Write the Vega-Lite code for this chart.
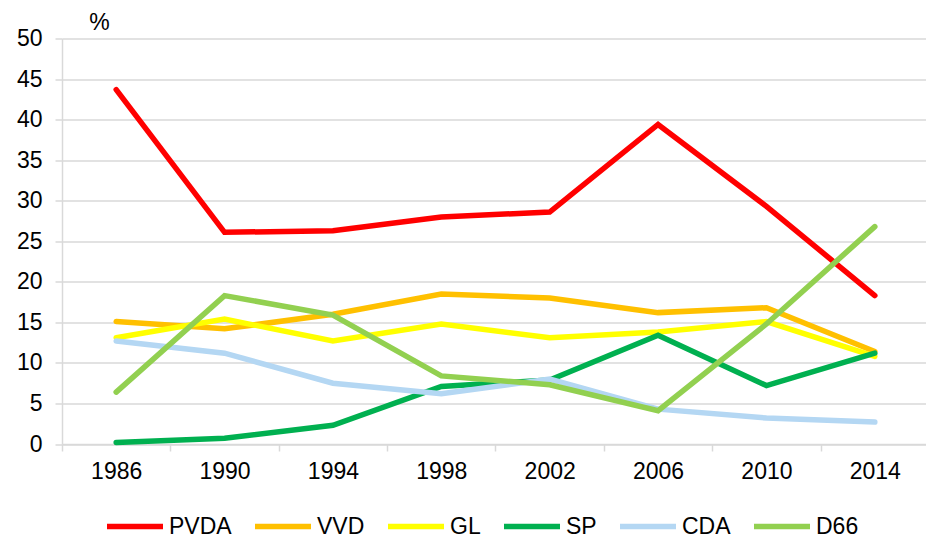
{
  "$schema": "https://vega.github.io/schema/vega-lite/v6.json",
  "autosize": {"type": "none"},
  "width": 867,
  "height": 405.5,
  "padding": {"left": 62, "top": 38.5, "right": 0, "bottom": 97},
  "background": "white",
  "config": {
    "font": "Liberation Sans",
    "view": {"stroke": null},
    "axis": {"labelFont": "Liberation Sans", "titleFont": "Liberation Sans"},
    "legend": {"labelFont": "Liberation Sans"}
  },
  "data": {
    "values": [
      {"party": "PVDA", "year": "1986", "pct": 43.7},
      {"party": "PVDA", "year": "1990", "pct": 26.1},
      {"party": "PVDA", "year": "1994", "pct": 26.3},
      {"party": "PVDA", "year": "1998", "pct": 28.0},
      {"party": "PVDA", "year": "2002", "pct": 28.6},
      {"party": "PVDA", "year": "2006", "pct": 39.4},
      {"party": "PVDA", "year": "2010", "pct": 29.3},
      {"party": "PVDA", "year": "2014", "pct": 18.3},
      {"party": "VVD", "year": "1986", "pct": 15.1},
      {"party": "VVD", "year": "1990", "pct": 14.2},
      {"party": "VVD", "year": "1994", "pct": 16.0},
      {"party": "VVD", "year": "1998", "pct": 18.5},
      {"party": "VVD", "year": "2002", "pct": 18.0},
      {"party": "VVD", "year": "2006", "pct": 16.2},
      {"party": "VVD", "year": "2010", "pct": 16.8},
      {"party": "VVD", "year": "2014", "pct": 11.4},
      {"party": "GL", "year": "1986", "pct": 13.1},
      {"party": "GL", "year": "1990", "pct": 15.4},
      {"party": "GL", "year": "1994", "pct": 12.7},
      {"party": "GL", "year": "1998", "pct": 14.8},
      {"party": "GL", "year": "2002", "pct": 13.1},
      {"party": "GL", "year": "2006", "pct": 13.8},
      {"party": "GL", "year": "2010", "pct": 15.1},
      {"party": "GL", "year": "2014", "pct": 10.8},
      {"party": "SP", "year": "1986", "pct": 0.2},
      {"party": "SP", "year": "1990", "pct": 0.7},
      {"party": "SP", "year": "1994", "pct": 2.3},
      {"party": "SP", "year": "1998", "pct": 7.1},
      {"party": "SP", "year": "2002", "pct": 7.9},
      {"party": "SP", "year": "2006", "pct": 13.4},
      {"party": "SP", "year": "2010", "pct": 7.2},
      {"party": "SP", "year": "2014", "pct": 11.2},
      {"party": "CDA", "year": "1986", "pct": 12.7},
      {"party": "CDA", "year": "1990", "pct": 11.2},
      {"party": "CDA", "year": "1994", "pct": 7.5},
      {"party": "CDA", "year": "1998", "pct": 6.2},
      {"party": "CDA", "year": "2002", "pct": 8.0},
      {"party": "CDA", "year": "2006", "pct": 4.3},
      {"party": "CDA", "year": "2010", "pct": 3.2},
      {"party": "CDA", "year": "2014", "pct": 2.7},
      {"party": "D66", "year": "1986", "pct": 6.4},
      {"party": "D66", "year": "1990", "pct": 18.3},
      {"party": "D66", "year": "1994", "pct": 15.9},
      {"party": "D66", "year": "1998", "pct": 8.4},
      {"party": "D66", "year": "2002", "pct": 7.3},
      {"party": "D66", "year": "2006", "pct": 4.1},
      {"party": "D66", "year": "2010", "pct": 14.8},
      {"party": "D66", "year": "2014", "pct": 26.8}
    ]
  },
  "mark": {"type": "line", "strokeWidth": 5.5, "strokeCap": "round", "strokeJoin": "miter"},
  "encoding": {
    "x": {
      "field": "year",
      "type": "ordinal",
      "sort": null,
      "scale": {"type": "point", "padding": 0.5},
      "axis": {
        "title": null,
        "labelAngle": 0,
        "labelFontSize": 23,
        "labelColor": "#000000",
        "labelPadding": 9,
        "domainColor": "#D9D9D9",
        "domainWidth": 1.5,
        "tickColor": "#D9D9D9",
        "tickWidth": 1.5,
        "tickSize": 7,
        "tickOffset": -54.2,
        "labelOffset": 54.2,
        "grid": false
      }
    },
    "y": {
      "field": "pct",
      "type": "quantitative",
      "scale": {"domain": [0, 50], "nice": false, "zero": true},
      "axis": {
        "values": [0, 5, 10, 15, 20, 25, 30, 35, 40, 45, 50],
        "title": "%",
        "titleAngle": 0,
        "titleAlign": "center",
        "titleBaseline": "alphabetic",
        "titleX": 37,
        "titleY": -9,
        "titleFontSize": 23,
        "titleFontWeight": "normal",
        "titleColor": "#000000",
        "labelFontSize": 23,
        "labelColor": "#000000",
        "labelPadding": 13,
        "domainColor": "#D9D9D9",
        "domainWidth": 1.5,
        "tickColor": "#D9D9D9",
        "tickWidth": 1.5,
        "tickSize": 7,
        "grid": true,
        "gridColor": "#D9D9D9",
        "gridWidth": 1.5
      }
    },
    "color": {
      "field": "party",
      "type": "nominal",
      "sort": ["PVDA", "VVD", "GL", "SP", "CDA", "D66"],
      "scale": {
        "domain": ["PVDA", "VVD", "GL", "SP", "CDA", "D66"],
        "range": ["#FF0000", "#FFC000", "#FFFF00", "#00B050", "#B4D7F3", "#92D050"]
      },
      "legend": {
        "title": null,
        "orient": "none",
        "direction": "horizontal",
        "legendX": 42,
        "legendY": 457,
        "symbolType": "stroke",
        "symbolStrokeWidth": 5.5,
        "symbolSize": 3136,
        "labelFontSize": 23,
        "labelColor": "#000000",
        "labelOffset": 3,
        "columnPadding": 12
      }
    }
  }
}
